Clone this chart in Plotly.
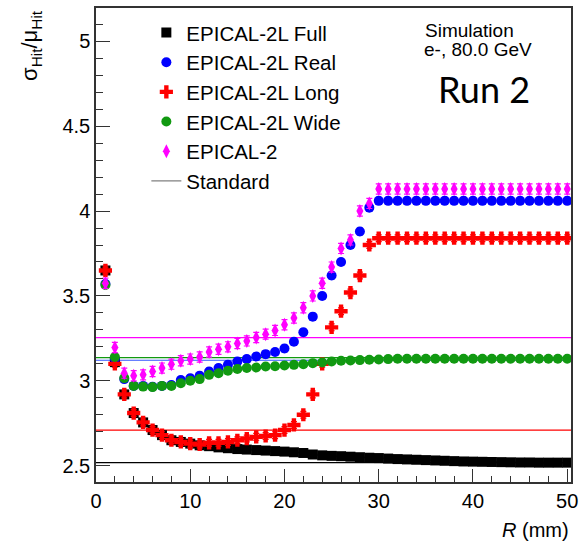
import plotly.graph_objects as go

R = list(range(1, 51))

full = [3.65, 3.11, 2.92, 2.81, 2.755, 2.71, 2.68, 2.65, 2.64, 2.63,
        2.62, 2.615, 2.608, 2.603, 2.598, 2.595, 2.592, 2.589, 2.586, 2.583,
        2.579, 2.575, 2.566, 2.561, 2.558, 2.556, 2.553, 2.55, 2.547, 2.545,
        2.542, 2.539, 2.537, 2.535, 2.533, 2.531, 2.529, 2.527, 2.525, 2.524,
        2.523, 2.522, 2.521, 2.52, 2.519, 2.519, 2.518, 2.518, 2.518, 2.518]

real = [3.57, 3.13, 3.01, 2.97, 2.97, 2.965, 2.97, 2.975, 3.005, 3.015,
        3.03, 3.055, 3.075, 3.094, 3.114, 3.128, 3.143, 3.157, 3.17, 3.19,
        3.23, 3.286, 3.378, 3.50, 3.62, 3.70, 3.80, 3.88, 4.02, 4.06] + [4.06] * 20

long_ = [3.65, 3.10, 2.92, 2.81, 2.755, 2.71, 2.68, 2.65, 2.64, 2.63,
         2.625, 2.635, 2.635, 2.64, 2.65, 2.66, 2.67, 2.675, 2.68, 2.71,
         2.74, 2.80, 2.92, 3.10, 3.315, 3.41, 3.52, 3.62, 3.80, 3.84] + [3.84] * 20

wide = [3.565, 3.14, 3.016, 2.97, 2.966, 2.963, 2.97, 2.97, 2.986, 3.0,
        3.01, 3.035, 3.045, 3.059, 3.07, 3.075, 3.078, 3.084, 3.086, 3.09,
        3.094, 3.098, 3.104, 3.108, 3.114, 3.118, 3.12, 3.122, 3.124, 3.126,
        3.128] + [3.13] * 19

epical2 = [3.575, 3.196, 3.045, 3.03, 3.035, 3.055, 3.075, 3.098, 3.118, 3.128,
           3.14, 3.17, 3.186, 3.20, 3.22, 3.235, 3.255, 3.275, 3.297, 3.33,
           3.37, 3.43, 3.50, 3.575, 3.67, 3.78, 3.83, 4.0, 4.045, 4.13] + [4.13] * 20

standard_vals = [3.255, 3.137, 3.121, 2.71, 2.518]
standard_cols = ["#ff00ff", "#119911", "#3355ff", "#ff0000", "#000000"]

x_range = [0, 50.4]
y_range = [2.404, 5.196]

fig = go.Figure()

for v, c in zip(standard_vals, standard_cols):
    fig.add_trace(go.Scatter(x=x_range, y=[v, v], mode="lines",
                             line=dict(color=c, width=1.2), showlegend=False,
                             hoverinfo="skip"))

series = [
    ("EPICAL-2L Full", full, "#000000", "square", 10, 0.01, 0.5),
    ("EPICAL-2L Real", real, "#0000ff", "circle", 10, 0.02, 0),
    ("EPICAL-2L Long", long_, "#ff0000", "cross", 11, 0.02, 0.5),
    ("EPICAL-2L Wide", wide, "#119911", "circle", 10, 0.015, 0),
    ("EPICAL-2", epical2, "#ff00ff", "diamond-tall", 10, 0.03, 0),
]

for name, ys, col, sym, size, ey, ex in series:
    fig.add_trace(go.Scatter(
        x=R, y=ys, mode="markers", name=name,
        marker=dict(color=col, symbol=sym, size=size, line=dict(width=0)),
        error_y=dict(type="constant", value=ey, color=col, thickness=1.2, width=3),
        error_x=dict(type="constant", value=ex, color=col, thickness=1.5, width=0,
                     visible=ex > 0),
    ))

fig.add_trace(go.Scatter(x=[None], y=[None], mode="lines", name="Standard",
                         line=dict(color="#808080", width=1.2)))

axis_font = dict(family="Liberation Sans, Arial, sans-serif", size=20, color="#000")

fig.update_layout(
    width=581, height=543,
    margin=dict(l=96, r=3, t=8, b=61),
    paper_bgcolor="white", plot_bgcolor="white",
    font=axis_font,
    showlegend=True,
    legend=dict(x=0.106, y=0.99, xanchor="left", yanchor="top",
                bgcolor="rgba(0,0,0,0)", borderwidth=0,
                font=dict(family="Liberation Sans, Arial, sans-serif", size=20.5, color="#000"),
                itemsizing="trace"),
    xaxis=dict(range=x_range, dtick=10, tick0=0, ticks="inside", ticklen=13,
               tickwidth=1.2, tickcolor="#333", showline=True, linecolor="#333",
               linewidth=1.5, mirror=True, showgrid=False, zeroline=False,
               tickfont=axis_font, ticklabeloverflow="allow",
               minor=dict(dtick=2, ticks="inside", ticklen=6, tickcolor="#333", showgrid=False)),
    yaxis=dict(range=y_range, dtick=0.5, tick0=0, ticks="inside", ticklen=14,
               tickwidth=1.2, tickcolor="#333", showline=True, linecolor="#333",
               linewidth=1.5, mirror=True, showgrid=False, zeroline=False,
               tickfont=axis_font,
               minor=dict(dtick=0.1, ticks="inside", ticklen=7, tickcolor="#333", showgrid=False)),
)

fig.add_annotation(text="σ<sub>Hit</sub>/μ<sub>Hit</sub>", textangle=-90,
                   xref="paper", yref="paper", x=-0.137, y=0.922,
                   xanchor="center", yanchor="middle", showarrow=False,
                   font=dict(family="Liberation Sans, Arial, sans-serif", size=22, color="#000"))

fig.add_annotation(text="<i>R</i> (mm)", xref="paper", yref="paper",
                   x=1.0, y=-0.101, xanchor="right", yanchor="middle", showarrow=False,
                   font=dict(family="Liberation Sans, Arial, sans-serif", size=20, color="#000"))

fig.add_annotation(text="Simulation", xref="paper", yref="paper",
                   x=0.689, y=0.953, xanchor="left", yanchor="middle", showarrow=False,
                   font=dict(family="Liberation Sans, Arial, sans-serif", size=19, color="#000"))
fig.add_annotation(text="e-, 80.0 GeV", xref="paper", yref="paper",
                   x=0.687, y=0.912, xanchor="left", yanchor="middle", showarrow=False,
                   font=dict(family="Liberation Sans, Arial, sans-serif", size=19, color="#000"))
fig.add_annotation(text="Run 2", xref="paper", yref="paper",
                   x=0.715, y=0.83, xanchor="left", yanchor="middle", showarrow=False,
                   font=dict(family="Lato, Liberation Sans, sans-serif", size=36, color="#000"))

fig.write_html("out.html")
